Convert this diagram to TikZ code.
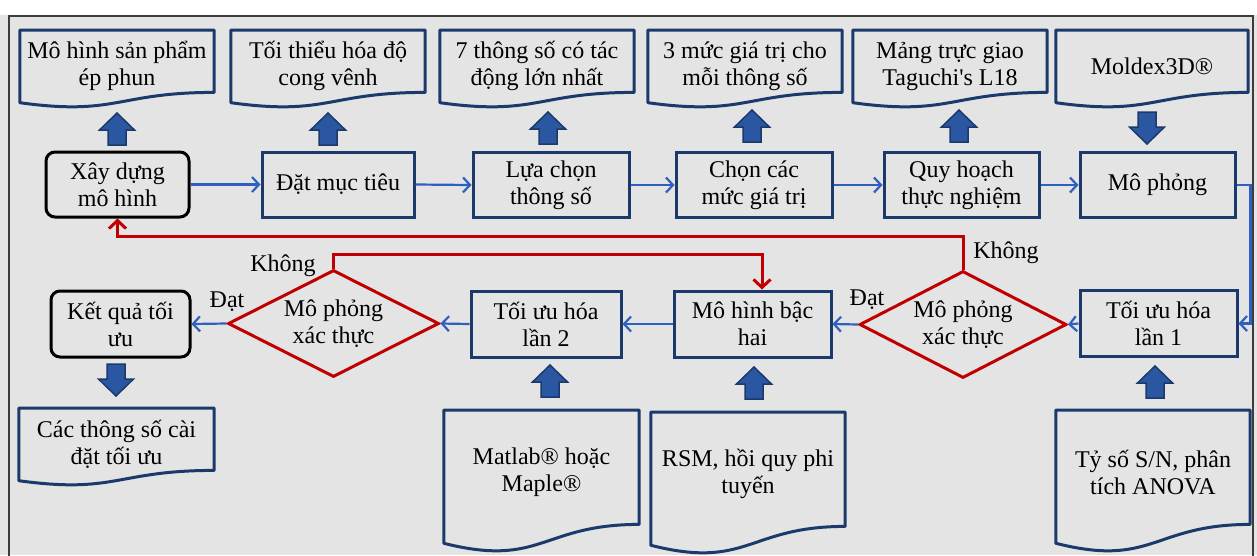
\documentclass[tikz,border=0pt]{standalone}
\usepackage{fontspec}
\setmainfont{Liberation Serif}
\usetikzlibrary{shapes.geometric,arrows.meta,calc}
\definecolor{navy}{HTML}{1B3A6B}
\definecolor{arrowfill}{HTML}{2A56A2}
\definecolor{conn}{HTML}{2F5FBF}
\definecolor{redc}{HTML}{C00000}
\definecolor{bg}{HTML}{E4E4E4}
\definecolor{framec}{HTML}{3C3C3C}
\newcommand\docbox[6]{%
  \node[docn, minimum width=#4, minimum height=#5, anchor=north] (#1) at (#2,#3) {};
  \draw[docline] (#1.north west) -- (#1.north east) -- (#1.south east)
    .. controls (#1.south) and ($(#1.north)!1.38!(#1.south)$) ..
    ($(#1.north west)!1.165!(#1.south west)$) -- cycle;
  \node (#1t) at ($(#1.center)+(0,5)$) {#6};
}
\newcommand\blkup[2]{%
  \draw[blk] (#1,#2) -- ++(17.5,17) -- ++(-8.5,0) -- ++(0,15) -- ++(-18,0) -- ++(0,-15) -- ++(-8.5,0) -- cycle;}
\newcommand\blkdown[2]{%
  \draw[blk] (#1,#2) -- ++(17.5,-17) -- ++(-8.5,0) -- ++(0,-15) -- ++(-18,0) -- ++(0,15) -- ++(-8.5,0) -- cycle;}
\begin{document}
\begin{tikzpicture}[x=1pt,y=-1pt,
  every node/.style={font=\fontsize{24}{27}\selectfont, align=center, inner sep=0pt},
  docn/.style={},
  docline/.style={draw=navy, line width=3pt, line join=round},
  box/.style={draw=navy, line width=3pt, minimum height=65pt},
  rbox/.style={draw=black, line width=3pt, rounded corners=9pt, minimum height=65pt},
  dia/.style={diamond, aspect=2, draw=redc, line width=3pt, minimum width=211pt, minimum height=107pt},
  blk/.style={fill=arrowfill, draw=navy, line width=1.5pt, line join=miter},
  conn/.style={draw=conn, line width=2.2pt, -{Straight Barb[length=7pt,width=15pt]}},
  rconn/.style={draw=redc, line width=3pt, -{Straight Barb[length=8pt,width=17pt]}}
]
\useasboundingbox (0,0) rectangle (1257,555);
\fill[bg] (0,0) rectangle (1257,555);
\fill[white] (0,0) rectangle (1257,15);
\draw[framec, line width=1.6pt] (9,565) -- (9,16) -- (1253,16) -- (1253,565);

% top documents
\docbox{d1}{117}{30}{194pt}{62pt}{Mô hình sản phẩm\\ép phun}
\docbox{d2}{328}{30}{194pt}{62pt}{Tối thiểu hóa độ\\cong vênh}
\docbox{d3}{537}{30}{194pt}{62pt}{7 thông số có tác\\động lớn nhất}
\docbox{d4}{745}{30}{194pt}{62pt}{3 mức giá trị cho\\mỗi thông số}
\docbox{d5}{950}{30}{194pt}{62pt}{Mảng trực giao\\Taguchi\textquotesingle s L18}
\docbox{d6}{1152}{30}{192pt}{62pt}{Moldex3D®}

% top process boxes
\node[rbox, minimum width=143pt] (b1) at (117.5,184.5) {Xây dựng\\mô hình};
\node[box, minimum width=152pt] (b2) at (338,184.5) {Đặt mục tiêu};
\node[box, minimum width=156pt] (b3) at (551,185) {Lựa chọn\\thông số};
\node[box, minimum width=156pt] (b4) at (754,185) {Chọn các\\mức giá trị};
\node[box, minimum width=155pt] (b5) at (961.5,185) {Quy hoạch\\thực nghiệm};
\node[box, minimum width=155pt] (b6) at (1157.5,185) {Mô phỏng};

% bottom row
\node[rbox, minimum width=139pt, minimum height=66pt] (k) at (120.5,324) {Kết quả tối\\ưu};
\node[dia] (dm1) at (333.5,323.5) {Mô phỏng\\xác thực};
\node[box, minimum width=150pt, minimum height=66pt] (t2) at (546,324) {Tối ưu hóa\\lần 2};
\node[box, minimum width=157pt, minimum height=66pt] (mh) at (752.5,324) {Mô hình bậc\\hai};
\node[dia, minimum width=207pt] (dm2) at (963,324.5) {Mô phỏng\\xác thực};
\node[box, minimum width=157pt, minimum height=66pt] (t1) at (1158.5,323.5) {Tối ưu hóa\\lần 1};

% bottom documents
\docbox{dk}{116.5}{408}{195pt}{62pt}{Các thông số cài\\đặt tối ưu}
\docbox{dmat}{541.5}{410}{195pt}{114pt}{Matlab® hoặc\\Maple®}
\docbox{drsm}{748}{412}{194pt}{114pt}{RSM, hồi quy phi\\tuyến}
\docbox{dty}{1153}{410}{194pt}{114pt}{Tỷ số S/N, phân\\tích ANOVA}

% block arrows
\blkup{117}{113}
\blkup{328}{113}
\blkup{548}{112}
\blkup{752}{110}
\blkup{959}{110}
\blkdown{1147}{144}
\blkdown{116}{396}
\blkup{550}{365}
\blkup{754}{367}
\blkup{1155}{366}

% blue connectors
\draw[conn] (b1.east) -- (b2.west);
\draw[conn] (b2.east) -- (b3.west);
\draw[conn] (b3.east) -- (b4.west);
\draw[conn] (b4.east) -- (b5.west);
\draw[conn] (b5.east) -- (b6.west);
\draw[conn] (b6.east) -- ++(14,0) |- (t1.east);
\draw[conn] (t1.west) -- (dm2.east);
\draw[conn] (dm2.west) -- (mh.east);
\draw[conn] (mh.west) -- (t2.east);
\draw[conn] (t2.west) -- (dm1.east);
\draw[conn] (dm1.west) -- (k.east);

% red loops
\draw[rconn] (dm2.north) -- ++(0,-33) -| (b1.south);
\draw[rconn] (dm1.north) -- ++(0,-14) -| ($(mh.north)+(9.5,0)$);

% labels
\node (l1) at (227,302) {Đạt};
\node (l2) at (867,300) {Đạt};
\node (l3) at (283,266) {Không};
\node (l4) at (1006,253) {Không};
\end{tikzpicture}
\end{document}
